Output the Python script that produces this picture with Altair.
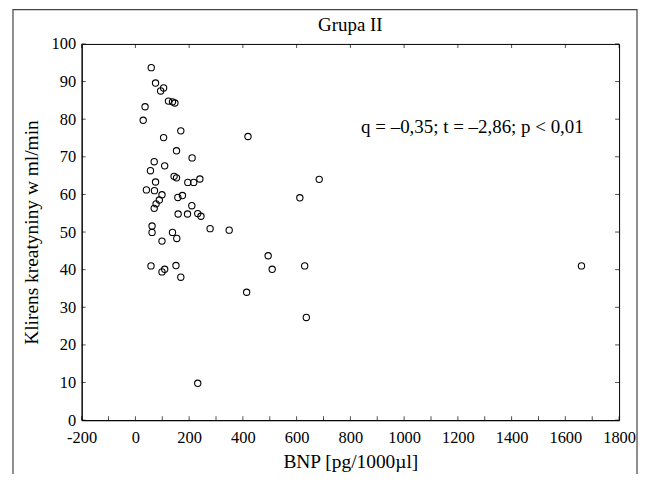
import altair as alt
import pandas as pd

# BNP [pg/1000µl]
bnp = [59, 75, 105, 94, 123, 138, 147, 36, 29, 169, 105, 419, 153, 211, 70, 109,
       56, 144, 153, 75, 195, 217, 240, 41, 71, 99, 89, 158, 175, 612, 77, 70,
       210, 159, 194, 232, 244, 278, 349, 62, 62, 99, 138, 154, 494, 509, 630,
       58, 99, 109, 151, 169, 414, 636, 232, 684, 1660]
# Klirens kreatyniny w ml/min
kreat = [93.7, 89.6, 88.3, 87.5, 84.8, 84.6, 84.3, 83.3, 79.7, 76.9, 75.1, 75.4,
         71.6, 69.7, 68.7, 67.6, 66.3, 64.8, 64.4, 63.3, 63.2, 63.2, 64.1, 61.2,
         61.0, 59.9, 58.5, 59.2, 59.7, 59.1, 57.5, 56.3, 57.0, 54.8, 54.8, 54.9,
         54.2, 50.9, 50.5, 51.6, 49.9, 47.6, 49.9, 48.3, 43.7, 40.1, 41.0, 41.0,
         39.4, 40.1, 41.1, 38.0, 34.0, 27.3, 9.8, 64.0, 41.0]

x_ticks = list(range(-200, 1801, 200))
x_minor = list(range(-200, 1801, 100))
y_ticks = list(range(0, 101, 10))

title_text = "Grupa II"
annotation = "q = \u20130,35; t  = \u20132,86; p < 0,01"
ann_x = [840]
ann_y = [78.0]

W, H = 540, 378
FONT = "Liberation Serif"
X_TITLE = "BNP [pg/1000\u00b5l]"
Y_TITLE = "Klirens kreatyniny w ml/min"

df = pd.DataFrame({"bnp": bnp, "kreat": kreat})

xscale = alt.Scale(domain=[-200, 1800], nice=False, zero=False)
yscale = alt.Scale(domain=[0, 100], nice=False, zero=False)

x_axis = alt.Axis(values=x_ticks, title=X_TITLE, tickSize=0,
                  labelPadding=9, grid=False, domainColor="black",
                  titlePadding=7, labelExpr="'' + datum.value", labelFlush=False)
y_axis = alt.Axis(values=y_ticks, title=Y_TITLE, tickSize=0,
                  labelPadding=6, grid=False, domainColor="black",
                  titlePadding=10, labelExpr="'' + datum.value")


def X(field):
    return alt.X(field, scale=xscale, axis=x_axis, title=X_TITLE)


def Y(field):
    return alt.Y(field, scale=yscale, axis=y_axis, title=Y_TITLE)


points = alt.Chart(df).mark_point(
    shape="circle", filled=False, color="black", size=40, strokeWidth=1.1, opacity=1
).encode(x=X("bnp:Q"), y=Y("kreat:Q"))

text = alt.Chart(pd.DataFrame({"x": ann_x, "y": ann_y, "t": [annotation]})).mark_text(
    align="left", baseline="middle", font=FONT, fontSize=19, color="black"
).encode(x=X("x:Q"), y=Y("y:Q"), text="t:N")

title = alt.Chart(pd.DataFrame({"t": [title_text]})).mark_text(
    align="center", baseline="middle", font=FONT, fontSize=19, color="black"
).encode(x=alt.value(W / 2), y=alt.value(-19), text="t:N")

bt = pd.DataFrame({"v": x_minor})
bottom_ticks = alt.Chart(bt).mark_tick(color="black", size=4, thickness=1, yOffset=-2).encode(
    x=X("v:Q"), y=alt.value(H)
)
tt = pd.DataFrame({"v": x_ticks})
top_ticks = alt.Chart(tt).mark_tick(color="black", size=4, thickness=1, yOffset=2).encode(
    x=X("v:Q"), y=alt.value(0)
)
yt = pd.DataFrame({"v": y_ticks})
left_ticks = alt.Chart(yt).mark_tick(color="black", size=4, thickness=1, xOffset=2).encode(
    y=Y("v:Q"), x=alt.value(0)
)
right_ticks = alt.Chart(yt).mark_tick(color="black", size=4, thickness=1, xOffset=-2).encode(
    y=Y("v:Q"), x=alt.value(W)
)

frame = alt.Chart(pd.DataFrame({"a": [0]})).mark_rect(
    fill=None, stroke="#444", strokeWidth=1.2, clip=False
).encode(
    x=alt.value(-69), x2=alt.value(558), y=alt.value(-34.5), y2=alt.value(480)
)

chart = alt.layer(points, text, title, bottom_ticks, top_ticks, left_ticks, right_ticks, frame).properties(
    width=W, height=H,
    padding={"left": 74, "top": 35, "right": 20, "bottom": 53},
    autosize=alt.AutoSizeParams(type="none"),
    background="white",
).configure_view(
    stroke="black", strokeWidth=1
).configure_axis(
    labelFont=FONT, labelFontSize=16.5, labelColor="black",
    titleFont=FONT, titleFontSize=19.5, titleFontWeight="normal", titleColor="black",
    domainColor="black",
)

chart.save("out.html", embed_options={"renderer": "svg", "actions": False})
